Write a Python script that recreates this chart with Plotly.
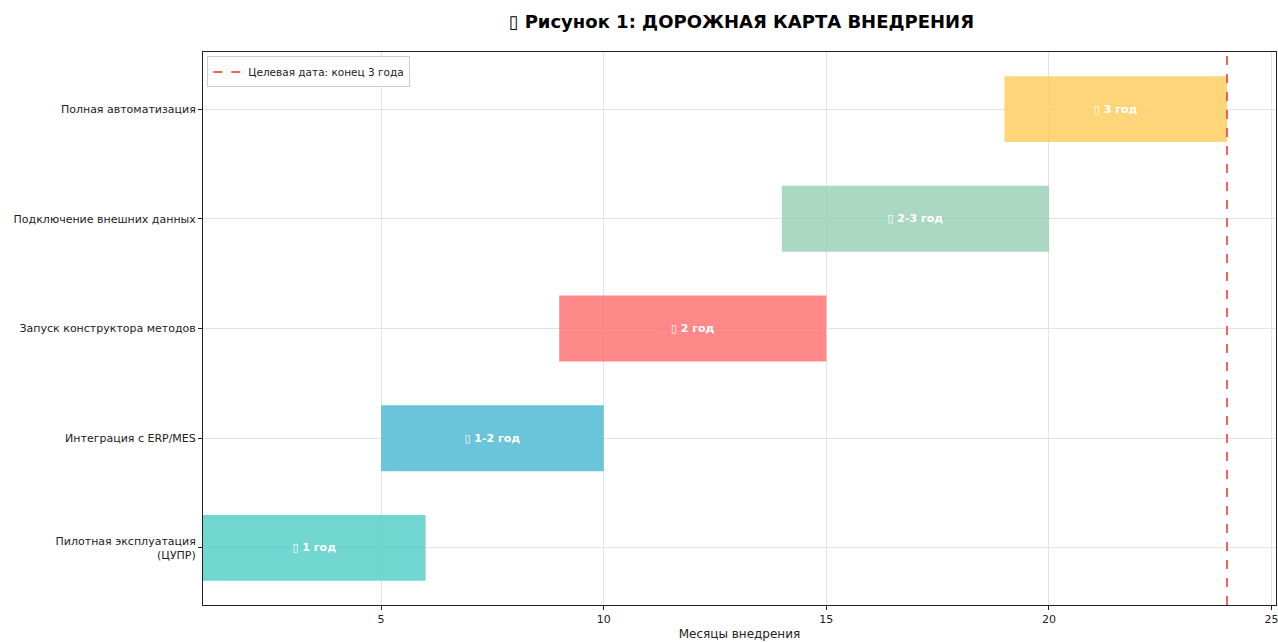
import plotly.graph_objects as go

# Roadmap stages (bottom to top), start month and end month
stages = [
    "Пилотная эксплуатация<br>(ЦУПР)",
    "Интеграция с ERP/MES",
    "Запуск конструктора методов",
    "Подключение внешних данных",
    "Полная автоматизация",
]
start_month = [1, 5, 9, 14, 19]
end_month = [6, 10, 15, 20, 24]
period_labels = ["▯ 1 год", "▯ 1-2 год", "▯ 2 год", "▯ 2-3 год", "▯ 3 год"]
colors = ["#4ECDC4", "#45B7D1", "#FF6B6B", "#96CEB4", "#FECA57"]
target_month = 24
target_label = "Целевая дата: конец 3 года"

x_ticks = [5, 10, 15, 20, 25]
y_pos = list(range(len(stages)))
y_range = [-0.52, 4.52]

font = "DejaVu Sans"
fig = go.Figure()

for i in y_pos:
    fig.add_trace(go.Bar(
        orientation="h",
        y=[i],
        base=[start_month[i]],
        x=[end_month[i] - start_month[i]],
        width=0.6,
        marker=dict(color=colors[i], opacity=0.8, line=dict(width=0)),
        text=[f"<b>{period_labels[i]}</b>"],
        textposition="inside",
        insidetextanchor="middle",
        textfont=dict(color="white", size=11, family=font),
        showlegend=False,
        hoverinfo="skip",
    ))

fig.add_trace(go.Scatter(
    x=[target_month, target_month],
    y=y_range,
    mode="lines",
    line=dict(color="#ee3b3b", width=2, dash="dash"),
    opacity=0.8,
    name=target_label,
    showlegend=True,
))

fig.update_layout(
    width=1278,
    height=642,
    margin=dict(l=203, r=2, t=52, b=37),
    paper_bgcolor="white",
    plot_bgcolor="white",
    font=dict(family=font, size=11, color="#222"),
    title=dict(
        text="<b>▯ Рисунок 1: ДОРОЖНАЯ КАРТА ВНЕДРЕНИЯ</b>",
        x=0.58,
        xanchor="center",
        y=0.966,
        yanchor="middle",
        font=dict(size=18, family=font, color="black"),
    ),
    barmode="overlay",
    showlegend=True,
    legend=dict(
        x=0.004,
        y=0.992,
        xanchor="left",
        yanchor="top",
        bgcolor="rgba(255,255,255,0.8)",
        bordercolor="#cccccc",
        borderwidth=1,
        font=dict(size=10.5, family=font),
        itemwidth=30,
    ),
    xaxis=dict(
        range=[1, 25.1],
        tickvals=x_ticks,
        ticklabeloverflow="allow",
        automargin=False,
        showgrid=True,
        gridcolor="#e3e3e3",
        gridwidth=1,
        zeroline=False,
        showline=True,
        linecolor="#222",
        linewidth=1,
        mirror=True,
        ticks="outside",
        ticklen=4,
        tickcolor="#222",
        tickfont=dict(size=11),
        title=dict(text="Месяцы внедрения", font=dict(size=12), standoff=4),
    ),
    yaxis=dict(
        range=y_range,
        tickvals=y_pos,
        ticktext=stages,
        showgrid=True,
        gridcolor="#e3e3e3",
        gridwidth=1,
        zeroline=False,
        showline=True,
        linecolor="#222",
        linewidth=1,
        mirror=True,
        ticks="outside",
        ticklen=4,
        tickcolor="#222",
        tickfont=dict(size=11),
    ),
)

fig.write_html("out.html")
